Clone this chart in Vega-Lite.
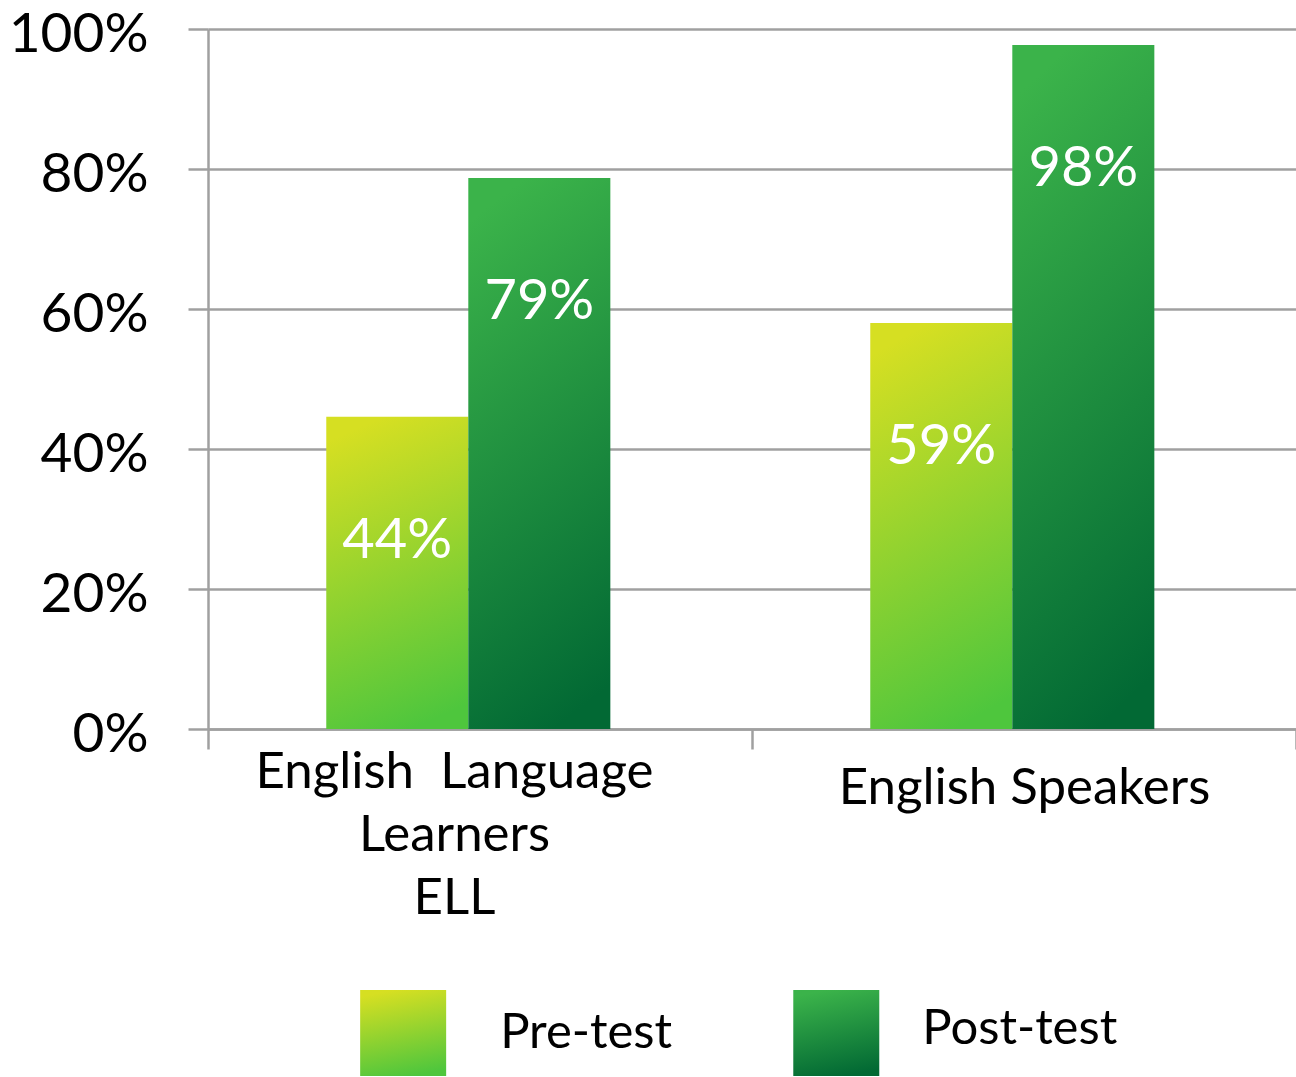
{
  "$schema": "https://vega.github.io/schema/vega-lite/v6.json",
  "autosize": {"type": "pad"},
  "padding": {"left": 8, "top": 7, "right": 0, "bottom": 0},
  "background": "white",
  "bounds": "flush",
  "spacing": 261,
  "config": {"view": {"stroke": null}, "font": "Lato"},
  "vconcat": [
    {
      "width": 1088,
      "height": 700,
      "data": {
        "values": [
          {"group": "English\u00a0 Language|Learners|ELL", "test": "Pre-test", "value": 0.446, "label": "44%"},
          {"group": "English\u00a0 Language|Learners|ELL", "test": "Post-test", "value": 0.787, "label": "79%"},
          {"group": "English Speakers", "test": "Pre-test", "value": 0.58, "label": "59%"},
          {"group": "English Speakers", "test": "Post-test", "value": 0.977, "label": "98%"}
        ]
      },
      "encoding": {
        "x": {
          "field": "group",
          "type": "nominal",
          "sort": null,
          "title": null,
          "scale": {"paddingInner": 0, "paddingOuter": 0},
          "axis": {
            "labelExpr": "split(datum.label, '|')",
            "labelAngle": 0,
            "labelFont": "Lato",
            "labelFontSize": 51,
            "labelColor": "black",
            "labelLineHeight": 63,
            "labelBaseline": "top",
            "labelPadding": {"condition": {"test": "datum.value == 'English Speakers'", "value": 14}, "value": -2},
            "labelOffset": {"condition": {"test": "datum.value == 'English Speakers'", "value": 0}, "value": -26},
            "tickBand": "extent",
            "tickSize": 20,
            "tickColor": "#a0a0a0",
            "tickWidth": 2.5,
            "domainColor": "#a0a0a0",
            "domainWidth": 2.5,
            "labelLimit": 0
          }
        },
        "xOffset": {
          "field": "test",
          "type": "nominal",
          "sort": ["Pre-test", "Post-test"],
          "scale": {"domain": ["Pre-test", "Post-test"], "paddingInner": 0, "paddingOuter": 0.915, "align": 0.455}
        },
        "y": {
          "field": "value",
          "type": "quantitative",
          "title": null,
          "scale": {"domain": [0, 1]},
          "axis": {
            "values": [0, 0.2, 0.4, 0.6, 0.8, 1],
            "format": ".0%",
            "labelFont": "Lato",
            "labelFontSize": 55,
            "labelColor": "black",
            "labelPadding": 40,
            "labelOffset": 5,
            "tickSize": 20,
            "tickColor": "#a0a0a0",
            "tickWidth": 2.5,
            "domainColor": "#a0a0a0",
            "domainWidth": 2.5,
            "gridColor": "#a0a0a0",
            "gridWidth": 2.5
          }
        }
      },
      "layer": [
        {
          "transform": [{"filter": "datum.test == 'Pre-test'"}],
          "mark": {"type": "bar", "strokeWidth": 0, "color": {"gradient": "linear", "x1": 0.4, "y1": 0, "x2": 0.6, "y2": 1, "stops": [{"offset": 0, "color": "#d6df22"}, {"offset": 1, "color": "#4ec63d"}]}}
        },
        {
          "transform": [{"filter": "datum.test == 'Post-test'"}],
          "mark": {"type": "bar", "strokeWidth": 0, "color": {"gradient": "linear", "x1": 0.4, "y1": 0, "x2": 0.6, "y2": 1, "stops": [{"offset": 0, "color": "#3bb34a"}, {"offset": 1, "color": "#026934"}]}}
        },
        {
          "mark": {"type": "text", "color": "white", "fontSize": 56, "font": "Lato", "baseline": "middle", "dy": 124},
          "encoding": {"text": {"field": "label"}}
        }
      ]
    },
    {
      "width": 1088,
      "height": 86,
      "data": {"values": [{"test": "Pre-test"}, {"test": "Post-test"}]},
      "encoding": {
        "x": {
          "field": "test",
          "type": "nominal",
          "sort": ["Pre-test", "Post-test"],
          "title": null,
          "axis": null,
          "scale": {"type": "point", "padding": 0.756, "align": 0.298}
        }
      },
      "layer": [
        {
          "transform": [{"filter": "datum.test == 'Pre-test'"}],
          "mark": {"type": "square", "size": 7396, "opacity": 1, "strokeWidth": 0, "color": {"gradient": "linear", "x1": 0.4, "y1": 0, "x2": 0.6, "y2": 1, "stops": [{"offset": 0, "color": "#d6df22"}, {"offset": 1, "color": "#4ec63d"}]}}
        },
        {
          "transform": [{"filter": "datum.test == 'Post-test'"}],
          "mark": {"type": "square", "size": 7396, "opacity": 1, "strokeWidth": 0, "color": {"gradient": "linear", "x1": 0.4, "y1": 0, "x2": 0.6, "y2": 1, "stops": [{"offset": 0, "color": "#3bb34a"}, {"offset": 1, "color": "#026934"}]}}
        },
        {
          "transform": [{"filter": "datum.test == 'Pre-test'"}],
          "mark": {"type": "text", "align": "left", "baseline": "middle", "dx": 97, "dy": 0, "fontSize": 49, "font": "Lato", "color": "black"},
          "encoding": {"text": {"field": "test"}}
        },
        {
          "transform": [{"filter": "datum.test == 'Post-test'"}],
          "mark": {"type": "text", "align": "left", "baseline": "middle", "dx": 86, "dy": -4, "fontSize": 49, "font": "Lato", "color": "black"},
          "encoding": {"text": {"field": "test"}}
        }
      ]
    }
  ]
}
